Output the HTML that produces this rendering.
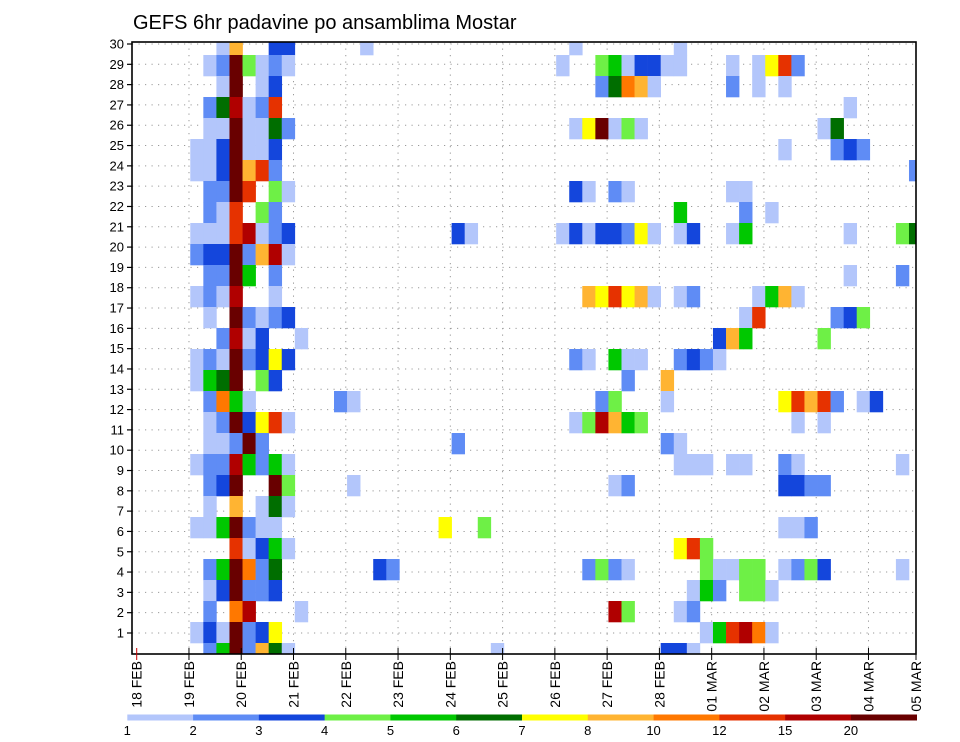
<!DOCTYPE html>
<html><head><meta charset="utf-8"><title>GEFS 6hr padavine po ansamblima Mostar</title>
<style>
html,body{margin:0;padding:0;background:#fff;}
svg{display:block;font-family:"Liberation Sans",sans-serif;}
</style></head>
<body>
<svg id="chart" width="960" height="742" viewBox="0 0 960 742" xmlns="http://www.w3.org/2000/svg">
<defs><clipPath id="plotclip"><rect x="132" y="42" width="784" height="612"/></clipPath></defs>
<text x="133" y="29" font-size="20" fill="#000">GEFS 6hr padavine po ansamblima Mostar</text>
<g id="grid"></g>
<g id="cells" clip-path="url(#plotclip)"></g>
<rect x="132" y="42" width="784" height="612" fill="none" stroke="#000" stroke-width="1.6"/>
<g id="yaxis"></g>
<g id="xaxis"></g>
<g id="legend"></g>
</svg>
<script>
const dayLabels = ["18 FEB","19 FEB","20 FEB","21 FEB","22 FEB","23 FEB","24 FEB","25 FEB","26 FEB","27 FEB","28 FEB","01 MAR","02 MAR","03 MAR","04 MAR","05 MAR"];
const yTicks = [1,2,3,4,5,6,7,8,9,10,11,12,13,14,15,16,17,18,19,20,21,22,23,24,25,26,27,28,29,30];
const levels = [1,2,3,4,5,6,7,8,10,12,15,20];
const levelColors = ["#b3c6fb","#5f8cf5","#1446dc","#6ef046","#00c800","#006e00","#ffff00","#ffb432","#ff7800","#e63200","#b00000","#690000"];
// [member, 6h-step index from 18 FEB 00z, precipitation mm]
const cells = [
[30,6,1.5],[30,7,9],[30,10,3.5],[30,11,3.5],[30,17,1.5],[30,33,1.5],[30,41,1.5],
[29,5,1.5],[29,6,2.5],[29,7,25],[29,8,4.5],[29,9,1.5],[29,10,2.5],[29,11,1.5],[29,32,1.5],[29,35,4.5],[29,36,5.5],[29,37,1.5],[29,38,3.5],[29,39,3.5],[29,40,1.5],[29,41,1.5],[29,45,1.5],[29,47,1.5],[29,48,7.5],[29,49,13.5],[29,50,2.5],
[28,6,1.5],[28,7,25],[28,9,1.5],[28,10,3.5],[28,35,2.5],[28,36,6.5],[28,37,11],[28,38,9],[28,39,1.5],[28,45,2.5],[28,47,1.5],[28,49,1.5],
[27,5,2.5],[27,6,6.5],[27,7,17],[27,8,1.5],[27,9,2.5],[27,10,13.5],[27,54,1.5],
[26,5,1.5],[26,6,1.5],[26,7,25],[26,8,1.5],[26,9,1.5],[26,10,6.5],[26,11,2.5],[26,33,1.5],[26,34,7.5],[26,35,25],[26,36,1.5],[26,37,4.5],[26,38,1.5],[26,52,1.5],[26,53,6.5],
[25,4,1.5],[25,5,1.5],[25,6,3.5],[25,7,25],[25,8,1.5],[25,9,1.5],[25,10,3.5],[25,49,1.5],[25,53,2.5],[25,54,3.5],[25,55,2.5],
[24,4,1.5],[24,5,1.5],[24,6,3.5],[24,7,25],[24,8,9],[24,9,13.5],[24,10,2.5],[24,59,2.5],
[23,5,2.5],[23,6,2.5],[23,7,25],[23,8,13.5],[23,10,4.5],[23,11,1.5],[23,33,3.5],[23,34,1.5],[23,36,2.5],[23,37,1.5],[23,45,1.5],[23,46,1.5],
[22,5,2.5],[22,6,1.5],[22,7,13.5],[22,9,4.5],[22,10,2.5],[22,41,5.5],[22,46,2.5],[22,48,1.5],
[21,4,1.5],[21,5,1.5],[21,6,1.5],[21,7,13.5],[21,8,17],[21,9,1.5],[21,10,2.5],[21,11,3.5],[21,24,3.5],[21,25,1.5],[21,32,1.5],[21,33,3.5],[21,34,1.5],[21,35,3.5],[21,36,3.5],[21,37,2.5],[21,38,7.5],[21,39,1.5],[21,41,1.5],[21,42,3.5],[21,45,1.5],[21,46,5.5],[21,54,1.5],[21,58,4.5],[21,59,6.5],
[20,4,2.5],[20,5,3.5],[20,6,3.5],[20,7,25],[20,8,2.5],[20,9,9],[20,10,17],[20,11,1.5],
[19,5,2.5],[19,6,2.5],[19,7,25],[19,8,5.5],[19,10,2.5],[19,54,1.5],[19,58,2.5],
[18,4,1.5],[18,5,2.5],[18,6,1.5],[18,7,17],[18,10,1.5],[18,34,9],[18,35,7.5],[18,36,13.5],[18,37,7.5],[18,38,9],[18,39,1.5],[18,41,1.5],[18,42,2.5],[18,47,1.5],[18,48,5.5],[18,49,9],[18,50,1.5],
[17,5,1.5],[17,7,25],[17,8,2.5],[17,9,1.5],[17,10,2.5],[17,11,3.5],[17,46,1.5],[17,47,13.5],[17,53,2.5],[17,54,3.5],[17,55,4.5],
[16,6,2.5],[16,7,17],[16,8,1.5],[16,9,3.5],[16,12,1.5],[16,44,3.5],[16,45,9],[16,46,5.5],[16,52,4.5],
[15,4,1.5],[15,5,2.5],[15,6,1.5],[15,7,25],[15,8,2.5],[15,9,3.5],[15,10,7.5],[15,11,3.5],[15,33,2.5],[15,34,1.5],[15,36,5.5],[15,37,1.5],[15,38,1.5],[15,41,2.5],[15,42,3.5],[15,43,2.5],[15,44,1.5],
[14,4,1.5],[14,5,5.5],[14,6,6.5],[14,7,25],[14,9,4.5],[14,10,3.5],[14,37,2.5],[14,40,9],
[13,5,2.5],[13,6,11],[13,7,5.5],[13,8,1.5],[13,15,2.5],[13,16,1.5],[13,35,2.5],[13,36,4.5],[13,40,1.5],[13,49,7.5],[13,50,13.5],[13,51,9],[13,52,13.5],[13,53,2.5],[13,55,1.5],[13,56,3.5],
[12,5,1.5],[12,6,2.5],[12,7,25],[12,8,3.5],[12,9,7.5],[12,10,13.5],[12,11,1.5],[12,33,1.5],[12,34,4.5],[12,35,17],[12,36,9],[12,37,5.5],[12,38,4.5],[12,50,1.5],[12,52,1.5],
[11,5,1.5],[11,6,1.5],[11,7,2.5],[11,8,25],[11,9,2.5],[11,24,2.5],[11,40,2.5],[11,41,1.5],
[10,4,1.5],[10,5,2.5],[10,6,2.5],[10,7,17],[10,8,5.5],[10,9,2.5],[10,10,5.5],[10,11,1.5],[10,41,1.5],[10,42,1.5],[10,43,1.5],[10,45,1.5],[10,46,1.5],[10,49,2.5],[10,50,1.5],[10,58,1.5],
[9,5,2.5],[9,6,3.5],[9,7,25],[9,10,25],[9,11,4.5],[9,16,1.5],[9,36,1.5],[9,37,2.5],[9,49,3.5],[9,50,3.5],[9,51,2.5],[9,52,2.5],
[8,5,1.5],[8,7,9],[8,9,1.5],[8,10,6.5],[8,11,1.5],
[7,4,1.5],[7,5,1.5],[7,6,5.5],[7,7,25],[7,8,2.5],[7,9,1.5],[7,10,1.5],[7,23,7.5],[7,26,4.5],[7,49,1.5],[7,50,1.5],[7,51,2.5],
[6,7,13.5],[6,8,1.5],[6,9,3.5],[6,10,5.5],[6,11,1.5],[6,41,7.5],[6,42,13.5],[6,43,4.5],
[5,5,2.5],[5,6,5.5],[5,7,25],[5,8,11],[5,9,2.5],[5,10,6.5],[5,18,3.5],[5,19,2.5],[5,34,2.5],[5,35,4.5],[5,36,2.5],[5,37,1.5],[5,43,4.5],[5,44,1.5],[5,45,1.5],[5,46,4.5],[5,47,4.5],[5,49,1.5],[5,50,2.5],[5,51,4.5],[5,52,3.5],[5,58,1.5],
[4,5,1.5],[4,6,3.5],[4,7,25],[4,8,2.5],[4,9,2.5],[4,10,3.5],[4,42,1.5],[4,43,5.5],[4,44,2.5],[4,46,4.5],[4,47,4.5],[4,48,1.5],
[3,5,2.5],[3,7,11],[3,8,17],[3,12,1.5],[3,36,17],[3,37,4.5],[3,41,1.5],[3,42,2.5],
[2,4,1.5],[2,5,3.5],[2,6,1.5],[2,7,25],[2,8,2.5],[2,9,3.5],[2,10,7.5],[2,43,1.5],[2,44,5.5],[2,45,13.5],[2,46,17],[2,47,11],[2,48,1.5],
[1,5,2.5],[1,6,5.5],[1,7,25],[1,8,2.5],[1,9,9],[1,10,6.5],[1,11,1.5],[1,27,1.5],[1,40,3.5],[1,41,3.5],[1,42,1.5]
];

const NS = "http://www.w3.org/2000/svg";
const PL = 132, PR = 916, PT = 42, PB = 654;
const X0 = 136.7, DAYW = 52.27, STEPW = DAYW / 4, CELL_OFF = 1.3;
function xDay(d) { return X0 + d * DAYW; }
function xStep(k) { return X0 + CELL_OFF + k * STEPW; }
function yGrid(v) { return 653.3 - 20.31 * v; }
const ROWH = 21;
function yMember(m) { return 653.5 - ROWH * (m - 1); }
function colorFor(v) {
  let idx = -1;
  for (let i = 0; i < levels.length; i++) if (v >= levels[i]) idx = i;
  return idx < 0 ? null : levelColors[idx];
}
function mk(tag, attrs, parent) {
  const e = document.createElementNS(NS, tag);
  for (const k in attrs) e.setAttribute(k, attrs[k]);
  parent.appendChild(e);
  return e;
}

const grid = document.getElementById("grid");
yTicks.forEach(v => {
  const l = mk("line", {x1: PL, x2: PR, y1: yGrid(v), y2: yGrid(v), stroke: "#9a9a9a", "stroke-width": 1, "stroke-dasharray": "1.2 5.3"}, grid);
  
  
});
dayLabels.forEach((lab, d) => {
  const x = d === dayLabels.length - 1 ? PR : xDay(d);
  if (d > 0 && d < dayLabels.length - 1) {
    const l = mk("line", {x1: x, x2: x, y1: PT, y2: PB, stroke: "#9a9a9a", "stroke-width": 1, "stroke-dasharray": "1.2 5.3"}, grid);
    
    
  }
});

const cg = document.getElementById("cells");
cells.forEach(c => {
  const col = colorFor(c[2]);
  if (!col) return;
  const r = mk("rect", {x: xStep(c[1]), y: yMember(c[0]) - ROWH / 2, width: STEPW + 0.3, height: ROWH + 0.3, fill: col}, cg);
  
  
});

const ya = document.getElementById("yaxis");
yTicks.forEach(v => {
  const t = mk("line", {x1: PL - 5, x2: PL, y1: yGrid(v), y2: yGrid(v), stroke: "#000", "stroke-width": 1.2}, ya);
  
  
  const tx = mk("text", {x: PL - 8, y: yGrid(v) + 4.5, "text-anchor": "end", "font-size": 13, fill: "#000"}, ya);
  tx.textContent = v;
  
  
});

const xa = document.getElementById("xaxis");
dayLabels.forEach((lab, d) => {
  const x = d === dayLabels.length - 1 ? PR : xDay(d);
  const t = mk("line", {x1: x, x2: x, y1: PB - 6, y2: PB + 6, stroke: d === 0 ? "#c00" : "#000", "stroke-width": 1}, xa);
  
  
  const tx = mk("text", {x: 0, y: 0, "text-anchor": "end", "font-size": 14, fill: "#000", "xml:space": "preserve", transform: "translate(" + (x + 5) + ",661) rotate(-90)"}, xa);
  tx.textContent = lab.replace(" ", "  ");
  
  
});

const lg = document.getElementById("legend");
const LX0 = 127.3, LW = (916.7 - 127.3) / levels.length;
levels.forEach((lv, i) => {
  const r = mk("rect", {x: LX0 + i * LW, y: 714.5, width: LW + 0.3, height: 6, fill: levelColors[i]}, lg);
  
  
  const tx = mk("text", {x: LX0 + i * LW, y: 735, "text-anchor": "middle", "font-size": 13, fill: "#000"}, lg);
  tx.textContent = lv;
  
  
});
</script>
</body></html>
